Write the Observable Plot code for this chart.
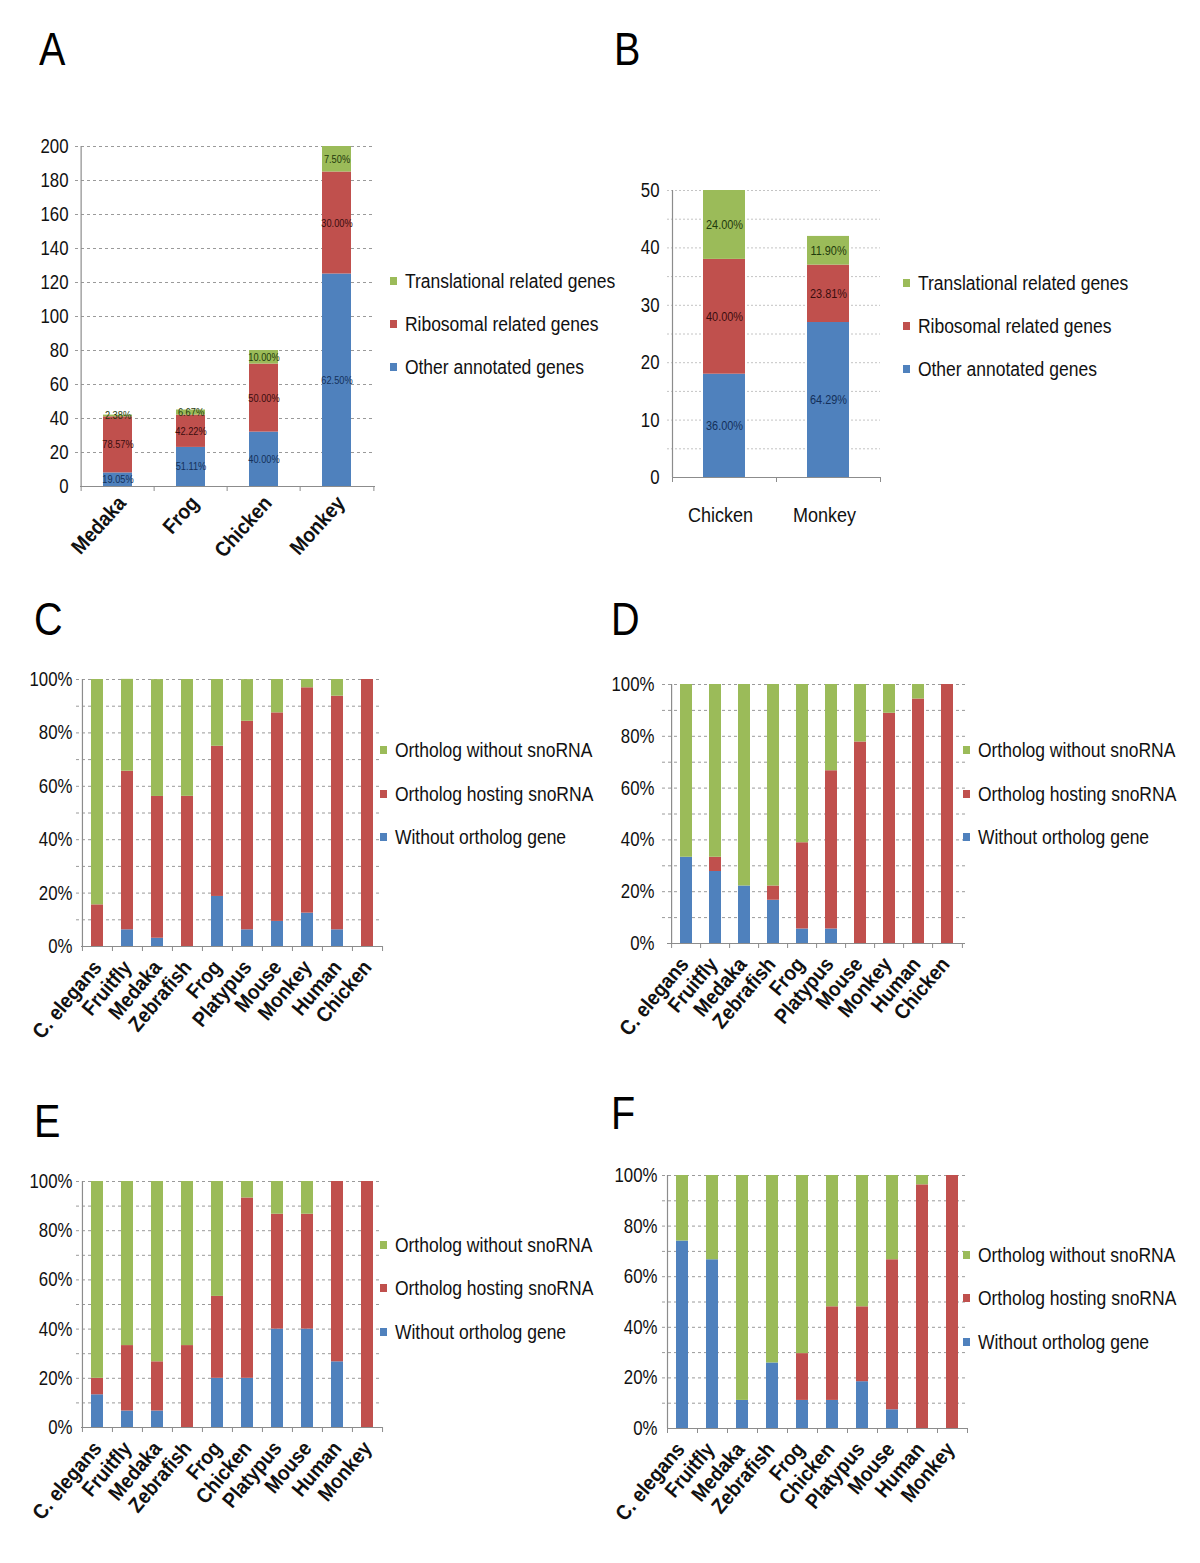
<!DOCTYPE html>
<html><head><meta charset="utf-8">
<script src="https://cdn.jsdelivr.net/npm/d3@7"></script>
<script src="https://cdn.jsdelivr.net/npm/@observablehq/plot@0.6"></script>
<style>
body{margin:0;background:#fff;}
#page{position:relative;width:1200px;height:1563px;background:#fff;font-family:"Liberation Sans",Arial,sans-serif;}
.panel{position:absolute;}
.panel svg{overflow:visible;}
.letter{position:absolute;font-family:"Liberation Sans",Arial,sans-serif;font-size:46px;color:#000;line-height:1;transform:scaleX(0.86);transform-origin:left top;}
.leg{position:absolute;font-size:20px;color:#111;white-space:nowrap;line-height:1;transform:scaleX(0.875);transform-origin:left center;}
.leg .sw{display:inline-block;width:8px;height:8px;margin-right:9px;vertical-align:middle;position:relative;top:-2px;}
</style></head>
<body><div id="page"></div>
<script>
// ---------- series & colours ----------
const geneSeries = ["Other annotated genes", "Ribosomal related genes", "Translational related genes"];
const orthoSeries = ["Without ortholog gene", "Ortholog hosting snoRNA", "Ortholog without snoRNA"];
const seriesColors = ["#4F81BD", "#C0504D", "#9BBB59"];
const labelColors = ["#14305a", "#3a0d0d", "#1f3a0c"];

// ---------- Panel A (counts) ----------
const aSpecies = ["Medaka", "Frog", "Chicken", "Monkey"];
const aOther = [8, 23, 32, 125];
const aRibo = [33, 19, 40, 60];
const aTrans = [1, 3, 8, 15];
const aOtherLbl = ["19.05%", "51.11%", "40.00%", "62.50%"];
const aRiboLbl = ["78.57%", "42.22%", "50.00%", "30.00%"];
const aTransLbl = ["2.38%", "6.67%", "10.00%", "7.50%"];
const aTicks = [0, 20, 40, 60, 80, 100, 120, 140, 160, 180, 200];

// ---------- Panel B (counts) ----------
const bSpecies = ["Chicken", "Monkey"];
const bOther = [18, 27];
const bRibo = [20, 10];
const bTrans = [12, 5];
const bOtherLbl = ["36.00%", "64.29%"];
const bRiboLbl = ["40.00%", "23.81%"];
const bTransLbl = ["24.00%", "11.90%"];
const bTicks = [0, 10, 20, 30, 40, 50];
const bGrid = [5, 10, 15, 20, 25, 30, 35, 40, 45, 50];

// ---------- Panels C-F (percent) ----------
const pctTicks = [0, 20, 40, 60, 80, 100];
const pctGrid = [10, 20, 30, 40, 50, 60, 70, 80, 90, 100];

const cSpecies = ["C. elegans", "Fruitfly", "Medaka", "Zebrafish", "Frog", "Platypus", "Mouse", "Monkey", "Human", "Chicken"];
const cWithoutOrtholog = [0, 6.25, 3.1, 0, 18.75, 6.25, 9.4, 12.5, 6.25, 0];
const cHosting = [15.6, 59.4, 53.1, 56.25, 56.25, 78.1, 78.1, 84.4, 87.5, 100];
const cNoSnoRNA = [84.4, 34.4, 43.75, 43.75, 25, 15.6, 12.5, 3.1, 6.25, 0];

const dSpecies = ["C. elegans", "Fruitfly", "Medaka", "Zebrafish", "Frog", "Platypus", "Mouse", "Monkey", "Human", "Chicken"];
const dWithoutOrtholog = [33.3, 27.8, 22.2, 16.7, 5.6, 5.6, 0, 0, 0, 0];
const dHosting = [0, 5.5, 0, 5.5, 33.3, 61.1, 77.8, 88.9, 94.4, 100];
const dNoSnoRNA = [66.7, 66.7, 77.8, 77.8, 61.1, 33.3, 22.2, 11.1, 5.6, 0];

const eSpecies = ["C. elegans", "Fruitfly", "Medaka", "Zebrafish", "Frog", "Chicken", "Platypus", "Mouse", "Human", "Monkey"];
const eWithoutOrtholog = [13.3, 6.7, 6.7, 0, 20, 20, 40, 40, 26.7, 0];
const eHosting = [6.7, 26.6, 20, 33.3, 33.3, 73.3, 46.7, 46.7, 73.3, 100];
const eNoSnoRNA = [80, 66.7, 73.3, 66.7, 46.7, 6.7, 13.3, 13.3, 0, 0];

const fSpecies = ["C. elegans", "Fruitfly", "Medaka", "Zebrafish", "Frog", "Chicken", "Platypus", "Mouse", "Human", "Monkey"];
const fWithoutOrtholog = [74.1, 66.7, 11.1, 25.9, 11.1, 11.1, 18.5, 7.4, 0, 0];
const fHosting = [0, 0, 0, 0, 18.5, 37, 29.6, 59.3, 96.3, 100];
const fNoSnoRNA = [25.9, 33.3, 88.9, 74.1, 70.4, 51.9, 51.9, 33.3, 3.7, 0];

// ---------- drawing ----------
const page = document.getElementById("page");
const FONT = '"Liberation Sans",Arial,sans-serif';

function condense(svg) {
  svg.querySelectorAll("text").forEach(t => {
    const L = t.getComputedTextLength();
    const isX = t.closest('g[aria-label="x-axis tick label"]') !== null;
    const factor = isX ? 0.9 : 0.84;
    if (L > 0) {
      t.setAttribute("textLength", (L * factor).toFixed(2));
      t.setAttribute("lengthAdjust", "spacingAndGlyphs");
    }
  });
}

function panel(cfg) {
  const {cats, series, values, labels, yDomain, yTicks, grid, fmt, width, height,
         mt, mr, mb, ml, left, top, rotate, xFont, xWeight, xPad, xDx, yPad,
         gridDash, gridColor, labelFont} = cfg;
  const rows = [];
  cats.forEach((c, i) => series.forEach((s, j) =>
    rows.push({cat: c, series: s, k: j, value: values[j][i], label: labels ? labels[j][i] : null})));
  const n = cats.length;
  const step = (width - ml - mr) / n;
  const tickLen = 5 * (yDomain[1] - yDomain[0]) / (height - mt - mb);
  const axisC = "#8c8c8c";
  const marks = [
    Plot.ruleY(grid, {stroke: gridColor, strokeDasharray: gridDash, strokeWidth: 1, insetLeft: -5}),
    Plot.barY(rows, {x: "cat", y: "value", fill: "series"}),
    Plot.ruleY([yDomain[0]], {stroke: axisC, strokeWidth: 1.2}),
    Plot.ruleX([cats[0]], {y1: yDomain[0], y2: yDomain[1], dx: -step / 2, stroke: axisC, strokeWidth: 1.2}),
    Plot.ruleX(cats, {y1: yDomain[0], y2: yDomain[0] - tickLen, dx: -step / 2, stroke: axisC}),
    Plot.ruleX([cats[n - 1]], {y1: yDomain[0], y2: yDomain[0] - tickLen, dx: step / 2, stroke: axisC}),
    Plot.axisY({ticks: yTicks, tickFormat: fmt, tickSize: 0, tickPadding: yPad, fontSize: 20, fill: "#111"}),
    Plot.axisX({tickSize: 0, tickPadding: xPad, tickRotate: rotate, fontSize: xFont, fontWeight: xWeight, dx: xDx, fill: "#111"})
  ];
  if (labels) {
    marks.push(Plot.text(rows, Plot.stackY({
      x: "cat", y: "value", text: "label",
      fill: d => labelColors[d.k],
      fontSize: labelFont, fontFamily: FONT
    })));
  }
  const chart = Plot.plot({
    width, height, marginTop: mt, marginRight: mr, marginBottom: mb, marginLeft: ml,
    style: {fontFamily: FONT, background: "transparent", overflow: "visible"},
    x: {domain: cats, paddingInner: 0.6, paddingOuter: 0.3, label: null},
    y: {domain: yDomain, label: null},
    color: {domain: series, range: seriesColors},
    marks
  });
  const div = document.createElement("div");
  div.className = "panel";
  div.style.left = left + "px";
  div.style.top = top + "px";
  div.appendChild(chart);
  page.appendChild(div);
  condense(chart);
}

function legend(names, left, rows) {
  [2, 1, 0].forEach((j, r) => {
    const d = document.createElement("div");
    d.className = "leg";
    d.style.left = left + "px";
    d.style.top = (rows[r] - 10) + "px";
    d.innerHTML = `<span class="sw" style="background:${seriesColors[j]}"></span>${names[j]}`;
    page.appendChild(d);
  });
}

function letter(t, x, y) {
  const d = document.createElement("div");
  d.className = "letter";
  d.textContent = t;
  d.style.left = x + "px";
  d.style.top = y + "px";
  page.appendChild(d);
}

const pctFmt = d => d + "%";

// A
panel({cats: aSpecies, series: geneSeries, values: [aOther, aRibo, aTrans],
  labels: [aOtherLbl, aRiboLbl, aTransLbl],
  yDomain: [0, 200], yTicks: aTicks, grid: aTicks.slice(1), fmt: d => d,
  width: 390, height: 440, mt: 16, mr: 15, mb: 84, ml: 80, left: 0, top: 130,
  rotate: -48, xFont: 21, xWeight: "bold", xPad: 13, xDx: 4, yPad: 12,
  gridDash: "3,3", gridColor: "#9a9a9a", labelFont: 11});
legend(geneSeries, 390, [281, 324, 367]);

// B
panel({cats: bSpecies, series: geneSeries, values: [bOther, bRibo, bTrans],
  labels: [bOtherLbl, bRiboLbl, bTransLbl],
  yDomain: [0, 50], yTicks: bTicks, grid: bGrid, fmt: d => d,
  width: 300, height: 370, mt: 20, mr: 20, mb: 63, ml: 72, left: 600, top: 170,
  rotate: 0, xFont: 20, xWeight: "normal", xPad: 30, xDx: -4, yPad: 13,
  gridDash: "2,2", gridColor: "#c4c4c4", labelFont: 13});
legend(geneSeries, 903, [283, 326, 369]);

// C
panel({cats: cSpecies, series: orthoSeries, values: [cWithoutOrtholog, cHosting, cNoSnoRNA],
  yDomain: [0, 100], yTicks: pctTicks, grid: pctGrid, fmt: pctFmt,
  width: 390, height: 400, mt: 19, mr: 8, mb: 114, ml: 81, left: 0, top: 660,
  rotate: -50, xFont: 21, xWeight: "bold", xPad: 17, xDx: 0, yPad: 9,
  gridDash: "3,3", gridColor: "#9a9a9a"});
legend(orthoSeries, 380, [750, 794, 837]);

// D
panel({cats: dSpecies, series: orthoSeries, values: [dWithoutOrtholog, dHosting, dNoSnoRNA],
  yDomain: [0, 100], yTicks: pctTicks, grid: pctGrid, fmt: pctFmt,
  width: 400, height: 400, mt: 24, mr: 15, mb: 117, ml: 87, left: 580, top: 660,
  rotate: -50, xFont: 21, xWeight: "bold", xPad: 17, xDx: -2, yPad: 13,
  gridDash: "3,3", gridColor: "#9a9a9a"});
legend(orthoSeries, 963, [750, 794, 837]);

// E
panel({cats: eSpecies, series: orthoSeries, values: [eWithoutOrtholog, eHosting, eNoSnoRNA],
  yDomain: [0, 100], yTicks: pctTicks, grid: pctGrid, fmt: pctFmt,
  width: 390, height: 400, mt: 21, mr: 8, mb: 133, ml: 81, left: 0, top: 1160,
  rotate: -50, xFont: 21, xWeight: "bold", xPad: 17, xDx: 0, yPad: 9,
  gridDash: "3,3", gridColor: "#9a9a9a"});
legend(orthoSeries, 380, [1245, 1288, 1332]);

// F
panel({cats: fSpecies, series: orthoSeries, values: [fWithoutOrtholog, fHosting, fNoSnoRNA],
  yDomain: [0, 100], yTicks: pctTicks, grid: pctGrid, fmt: pctFmt,
  width: 400, height: 400, mt: 15, mr: 13, mb: 132, ml: 87, left: 580, top: 1160,
  rotate: -50, xFont: 21, xWeight: "bold", xPad: 17, xDx: -2, yPad: 10,
  gridDash: "3,3", gridColor: "#9a9a9a"});
legend(orthoSeries, 963, [1255, 1298, 1342]);

letter("A", 39, 26);
letter("B", 614, 26);
letter("C", 34, 596);
letter("D", 611, 596);
letter("E", 34, 1098);
letter("F", 611, 1090);
</script>
</body></html>
